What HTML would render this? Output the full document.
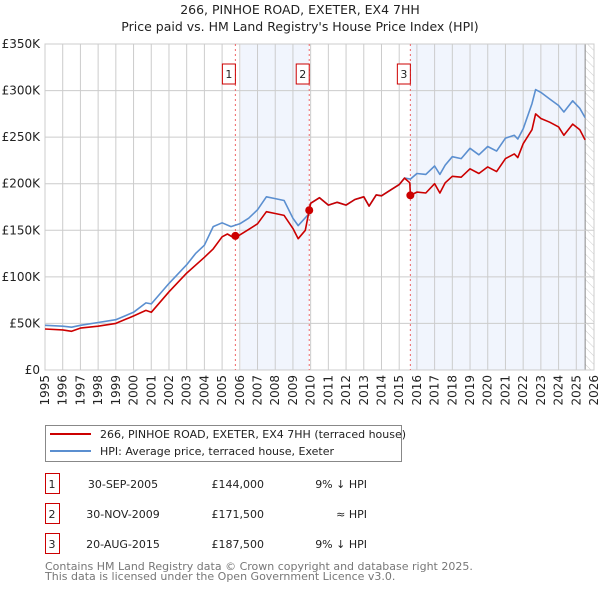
<!DOCTYPE html>
<html><head><meta charset="utf-8"><style>
body{margin:0;background:#fff;width:600px;height:590px;overflow:hidden;font-family:"DejaVu Sans","Liberation Sans",sans-serif;}
svg text{font-family:"DejaVu Sans","Liberation Sans",sans-serif;}
</style></head><body>
<svg id="chart" width="600" height="590" xmlns="http://www.w3.org/2000/svg">
<defs><pattern id="hatch" width="6" height="6" patternUnits="userSpaceOnUse" patternTransform="rotate(-45)"><line x1="0" y1="0" x2="0" y2="6" stroke="#ccc" stroke-width="1"/></pattern></defs>
<text x="300" y="14" text-anchor="middle" font-size="12.5" fill="#222">266, PINHOE ROAD, EXETER, EX4 7HH</text>
<text x="300" y="31" text-anchor="middle" font-size="12.5" fill="#222">Price paid vs. HM Land Registry's House Price Index (HPI)</text>
<g id="plot"></g>
<g>
<rect x="45.5" y="425.5" width="356" height="36" fill="#fff" stroke="#888"/>
<line x1="50" y1="434" x2="91" y2="434" stroke="#cc0000" stroke-width="2"/>
<text x="100" y="438" font-size="11" fill="#222">266, PINHOE ROAD, EXETER, EX4 7HH (terraced house)</text>
<line x1="50" y1="451" x2="91" y2="451" stroke="#5b8fd0" stroke-width="2"/>
<text x="100" y="455" font-size="11" fill="#222">HPI: Average price, terraced house, Exeter</text>
</g>
<g id="table" font-size="11" fill="#222"></g>
<text x="45" y="570" font-size="11" fill="#777">Contains HM Land Registry data © Crown copyright and database right 2025.</text>
<text x="45" y="580" font-size="11" fill="#777">This data is licensed under the Open Government Licence v3.0.</text>
</svg>
<script>
const hpiYears=[1995,1996,1996.5,1997,1998,1999,2000,2000.7,2001,2002,2003,2003.5,2004,2004.5,2005,2005.5,2006,2006.5,2007,2007.5,2008,2008.5,2009,2009.3,2009.92,2010,2010.5,2011,2011.5,2012,2012.5,2013,2013.3,2013.7,2014,2014.5,2015,2015.3,2015.63,2016,2016.5,2017,2017.3,2017.6,2018,2018.5,2019,2019.5,2020,2020.5,2021,2021.5,2021.7,2022,2022.5,2022.7,2023,2023.5,2024,2024.3,2024.8,2025.2,2025.5];
const hpiValues=[48000,47000,46000,48000,51000,54000,62000,72000,71000,93000,113000,125000,134000,154000,158000,154000,157000,163000,172000,186000,184000,182000,163000,155000,168000,179000,185000,177000,180000,177000,183000,186000,176000,188000,187000,193000,199000,206000,205000,211000,210000,219000,210000,220000,229000,227000,238000,231000,240000,235000,249000,252000,248000,259000,286000,301000,298000,291000,284000,277000,289000,281000,271000];
const priceYears=[1995,1996,1996.5,1997,1998,1999,2000,2000.7,2001,2002,2003,2004,2004.5,2005,2005.3,2005.7,2006,2006.5,2007,2007.5,2008,2008.5,2009,2009.3,2009.7,2009.92,2010,2010.5,2011,2011.5,2012,2012.5,2013,2013.3,2013.7,2014,2014.5,2015,2015.3,2015.6,2015.63,2016,2016.5,2017,2017.3,2017.6,2018,2018.5,2019,2019.5,2020,2020.5,2021,2021.5,2021.7,2022,2022.5,2022.7,2023,2023.5,2024,2024.3,2024.8,2025.2,2025.5];
const priceValues=[44000,43000,41500,45000,47000,50000,58000,64000,62000,84000,104000,121000,130000,143000,146000,141500,145000,151000,157000,170000,168000,166000,152000,141000,150000,171500,179000,185000,177000,180000,177000,183000,186000,176000,188000,187000,193000,199000,206000,201000,187500,191000,190000,200000,190000,201000,208000,207000,216000,211000,218000,213000,227000,232000,228000,243000,258000,275000,270000,266000,261000,252000,264000,258000,247000];
const saleYears=[2005.75,2009.92,2015.63];
const saleValues=[144000,171500,187500];
const saleLabels=["1","2","3"];
const saleDates=["30-SEP-2005","30-NOV-2009","20-AUG-2015"];
const salePrices=["£144,000","£171,500","£187,500"];
const saleRel=["9% ↓ HPI","≈ HPI","9% ↓ HPI"];
const yTicks=[0,50000,100000,150000,200000,250000,300000,350000];
const yTickLabels=["£0","£50K","£100K","£150K","£200K","£250K","£300K","£350K"];
const xTicks=[1995,1996,1997,1998,1999,2000,2001,2002,2003,2004,2005,2006,2007,2008,2009,2010,2011,2012,2013,2014,2015,2016,2017,2018,2019,2020,2021,2022,2023,2024,2025,2026];

const NS="http://www.w3.org/2000/svg";
const X0=45,X1=594,Y0=370,Y1=44;
const xs=y=>X0+(y-1995)/(2026-1995)*(X1-X0);
const ys=v=>Y0-v/350000*(Y0-Y1);
const plot=document.getElementById('plot');
function mk(tag,attrs,parent){const e=document.createElementNS(NS,tag);for(const k in attrs)e.setAttribute(k,attrs[k]);(parent||plot).appendChild(e);return e;}
let bg=mk('rect',{x:X0,y:Y1,width:X1-X0,height:Y0-Y1,fill:'#fff'});


let s1=mk('rect',{x:xs(2006.05),y:Y1,width:xs(saleYears[1])-xs(2006.05),height:Y0-Y1,fill:'#eef3fc',opacity:0.8});


let s2=mk('rect',{x:xs(saleYears[2]),y:Y1,width:xs(2025.5)-xs(saleYears[2]),height:Y0-Y1,fill:'#eef3fc',opacity:0.8});


let hz=mk('rect',{x:xs(2025.5),y:Y1,width:X1-xs(2025.5),height:Y0-Y1,fill:'url(#hatch)'});


mk('line',{x1:xs(2025.5),x2:xs(2025.5),y1:Y1,y2:Y0,stroke:'#888','stroke-width':1});
yTicks.forEach((t,i)=>{
 mk('line',{x1:X0,x2:X1,y1:ys(t),y2:ys(t),stroke:'#ccc','stroke-width':1});
 const tx=mk('text',{x:X0-5,y:ys(t)+4,'text-anchor':'end','font-size':'12',fill:'#222'});
 tx.textContent=yTickLabels[i];
 
 
});
xTicks.forEach(t=>{
 mk('line',{x1:xs(t),x2:xs(t),y1:Y1,y2:Y0,stroke:'#ccc','stroke-width':1});
 const tx=mk('text',{x:0,y:0,'text-anchor':'end','font-size':'12',fill:'#222',transform:`translate(${xs(t)+4},${Y0+5}) rotate(-90)`});
 tx.textContent=t;
 
 
});
mk('rect',{x:X0,y:Y1,width:X1-X0,height:Y0-Y1,fill:'none',stroke:'#ccc'});
saleYears.forEach((y,i)=>{
 const l=mk('line',{x1:xs(y),x2:xs(y),y1:Y1,y2:Y0,stroke:'#e66','stroke-width':1,'stroke-dasharray':'2,3'});
 
 
 const b=mk('rect',{x:xs(y)-13,y:64,width:13,height:20,fill:'#fff',stroke:'#cc0000'});
 
 
 const t=mk('text',{x:xs(y)-6.5,y:78,'text-anchor':'middle','font-size':'11',fill:'#222'});
 t.textContent=saleLabels[i];
});
function line(xsArr,vals,color,name){
 const d=xsArr.map((y,i)=>(i?'L':'M')+xs(y).toFixed(1)+','+ys(vals[i]).toFixed(1)).join('');
 const p=mk('path',{d:d,fill:'none',stroke:color,'stroke-width':1.6,'stroke-linejoin':'round'});
 
 
}
line(hpiYears,hpiValues,'#5b8fd0','hpi-line');
line(priceYears,priceValues,'#cc0000','price-paid-line');
saleYears.forEach((y,i)=>{
 const c=mk('circle',{cx:xs(y),cy:ys(saleValues[i]),r:4,fill:'#cc0000'});
 
 
});
const tbl=document.getElementById('table');
saleYears.forEach((y,i)=>{
 const ry=473+i*30;
 const b=mk('rect',{x:45.5,y:ry+0.5,width:14,height:20,fill:'#fff',stroke:'#cc0000'},tbl);
 
 
 const vals=[[saleLabels[i],52,'middle'],[saleDates[i],123,'middle'],[salePrices[i],264,'end'],[saleRel[i],367,'end']];
 vals.forEach(v=>{const t=mk('text',{x:v[1],y:ry+15,'text-anchor':v[2]},tbl);t.textContent=v[0];
 
 });
});
</script>
</body></html>
